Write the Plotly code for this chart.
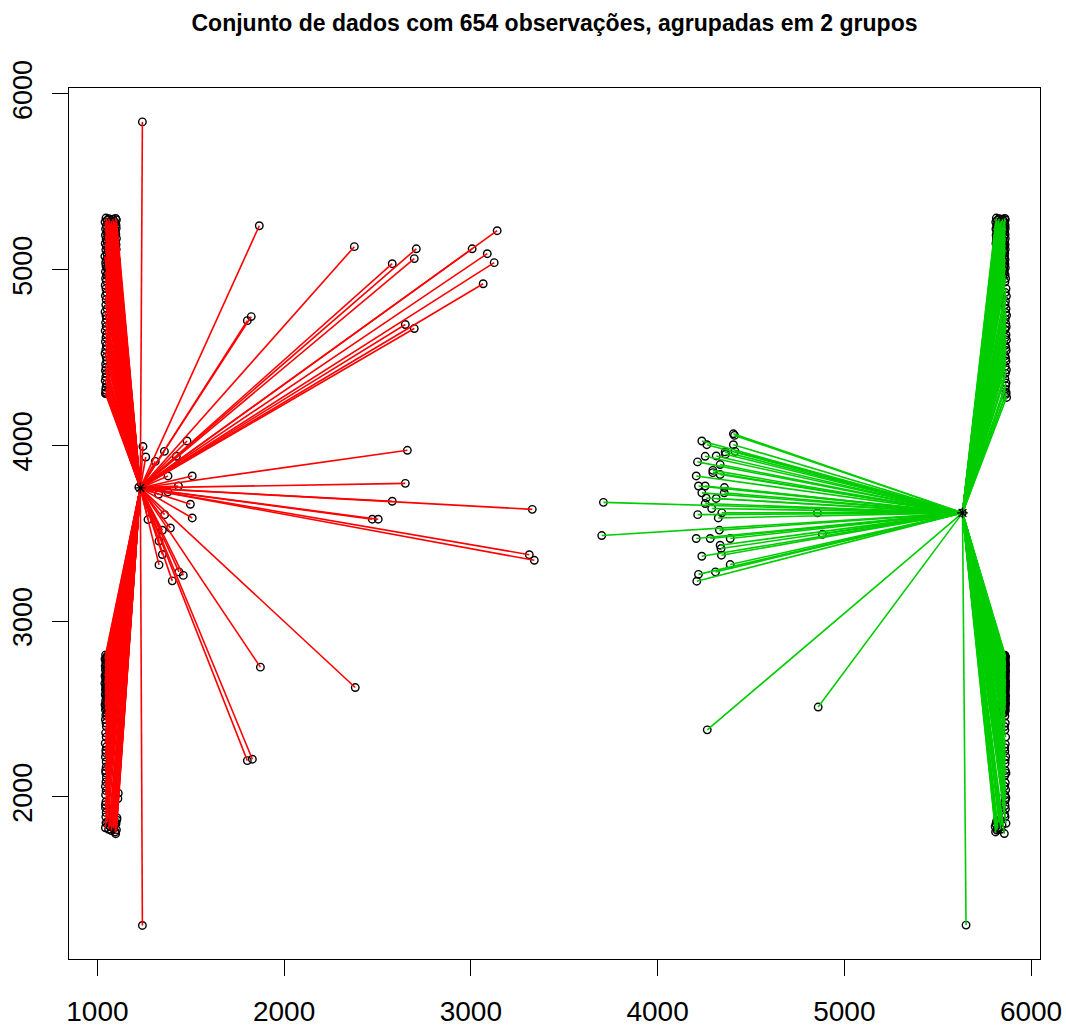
import plotly.graph_objects as go

# ---------------- data ----------------
title_text = "Conjunto de dados com 654 observações, agrupadas em 2 grupos"

red_center = (1230, 3758)
green_center = (5633, 3616)

# red cluster: dense upper column
red_top_y = [5294, 5292, 5290, 5287, 5284, 5281, 5278, 5275, 5271, 5268, 5264, 5261, 5257, 5254, 5250,
             5246, 5243, 5239, 5236, 5232, 5229, 5225, 5221, 5218, 5214, 5211, 5207, 5203, 5200, 5196,
             5192, 5189, 5185, 5182, 5178, 5174, 5171, 5167, 5163, 5160, 5156, 5153, 5149, 5145, 5142,
             5138, 5134, 5131, 5127, 5124, 5120, 5116, 5113, 5109, 5105, 5102, 5098, 5095, 5091, 5087,
             5084, 5080, 5076, 5073, 5069, 5066, 5062, 5058, 5055, 5051, 5047, 5044, 5040, 5037, 5033,
             5029, 5026, 5022, 5018, 5015, 5011, 5008, 5004, 5000, 4997, 4993, 4989, 4986, 4982, 4978,
             4975, 4971, 4968, 4964, 4960]
red_top_x = [1046, 1098, 1061, 1083, 1102, 1052, 1074, 1090, 1041, 1067, 1095, 1057, 1080, 1100, 1048,
             1071, 1088, 1063, 1101, 1044, 1078, 1093, 1055, 1069, 1097, 1050, 1085, 1060, 1099, 1043,
             1076, 1091, 1058, 1072, 1102, 1047, 1082, 1065, 1096, 1053, 1070, 1089, 1042, 1062, 1100,
             1079, 1049, 1094, 1066, 1086, 1056, 1101, 1045, 1075, 1092, 1059, 1068, 1098, 1051, 1084,
             1064, 1097, 1040, 1077, 1090, 1054, 1073, 1101, 1048, 1087, 1061, 1095, 1044, 1070, 1099,
             1057, 1081, 1046, 1093, 1066, 1102, 1052, 1078, 1088, 1060, 1096, 1043, 1074, 1091, 1055,
             1069, 1100, 1049, 1083, 1063]
# red cluster: sparse part below the upper column
red_top_sparse_y = [4950, 4935, 4912, 4892, 4870, 4852, 4830, 4800, 4778, 4760, 4739, 4720, 4699,
                    4676, 4653, 4634, 4614, 4590, 4568, 4545, 4523, 4503, 4483, 4463, 4443, 4426,
                    4409, 4390, 4369, 4350, 4330, 4315, 4301, 4295]
red_top_sparse_x = [1044, 1048, 1042, 1046, 1050, 1043, 1047, 1045, 1052, 1041, 1046, 1049, 1044,
                    1047, 1042, 1050, 1046, 1043, 1048, 1045, 1041, 1047, 1050, 1044, 1046, 1043,
                    1048, 1045, 1042, 1049, 1046, 1044, 1047, 1043]
# red cluster: dense lower column
red_bot_y = [2808, 2806, 2803, 2800, 2797, 2793, 2790, 2786, 2783, 2779, 2776, 2772, 2769, 2765, 2762,
             2758, 2755, 2751, 2748, 2744, 2741, 2737, 2734, 2730, 2727, 2723, 2720, 2716, 2713, 2709,
             2706, 2702, 2699, 2695, 2692, 2688, 2685, 2681, 2678, 2674, 2671, 2667, 2664, 2660, 2657,
             2653, 2650, 2646, 2643, 2639, 2636, 2632, 2629, 2625, 2622, 2618, 2615, 2611, 2608, 2604,
             2601, 2597, 2594, 2590, 2587, 2583, 2580, 2576, 2573, 2569, 2566, 2562, 2559, 2555, 2552,
             2548, 2545, 2541, 2538, 2534, 2531, 2527, 2524, 2520, 2517, 2513, 2510, 2506, 2503, 2499,
             2496, 2492, 2488, 2482, 2475]
red_bot_x = [1044, 1072, 1053, 1064, 1080, 1048, 1060, 1075, 1041, 1057, 1078, 1050, 1068, 1045, 1062,
             1079, 1047, 1070, 1055, 1042, 1066, 1076, 1051, 1059, 1073, 1043, 1063, 1080, 1049, 1056,
             1071, 1046, 1067, 1058, 1077, 1041, 1061, 1074, 1052, 1069, 1044, 1079, 1054, 1065, 1048,
             1072, 1057, 1040, 1076, 1062, 1050, 1068, 1045, 1078, 1059, 1053, 1070, 1043, 1064, 1075,
             1047, 1060, 1080, 1051, 1066, 1042, 1073, 1056, 1069, 1046, 1077, 1058, 1049, 1063, 1071,
             1044, 1067, 1055, 1079, 1048, 1061, 1074, 1041, 1065, 1052, 1076, 1057, 1046, 1070, 1062,
             1043, 1078, 1054, 1068, 1050]
# red cluster: sparse part below the lower column
red_bot_sparse_y = [2465, 2440, 2420, 2400, 2364, 2340, 2305, 2284, 2265, 2250, 2227, 2200, 2170,
                    2150, 2136, 2110, 2085, 2060, 2035, 2021, 2011, 1990, 1972, 1955, 1937, 1910,
                    1886, 1880, 1869, 1852, 1840, 1830, 1824, 1815, 1800, 1790,
                    1875, 1862, 1848, 1835, 1820, 1808, 1858, 1843, 1826, 1812]
red_bot_sparse_x = [1045, 1043, 1046, 1048, 1044, 1047, 1042, 1048, 1045, 1046, 1043, 1047, 1047,
                    1044, 1045, 1048, 1046, 1043, 1047, 1112, 1044, 1110, 1046, 1043, 1044, 1047,
                    1045, 1105, 1104, 1046, 1085, 1070, 1043, 1060, 1096, 1098,
                    1090, 1078, 1100, 1065, 1088, 1075, 1055, 1094, 1082, 1102]
# red cluster: points near the centre
red_near_x = [1222, 1244, 1259, 1359, 1480, 1310, 1423, 1378, 1508, 1434, 1328, 1378, 1498,
              1508, 1360, 1271, 1348, 1391, 1330, 1348, 1330, 1437, 1460, 1401]
red_near_y = [3762, 3994, 3934, 3966, 4025, 3909, 3938, 3826, 3826, 3769, 3722, 3735, 3665,
              3587, 3606, 3578, 3517, 3530, 3456, 3379, 3320, 3280, 3260, 3229]
# red cluster: far points
red_far_x = [1241, 1241, 1867, 1803, 1824, 2376, 2579, 2708, 2697, 3007, 3088, 3141, 3125,
             3066, 2649, 2697, 2660, 2649, 2579, 2472, 2504, 3329, 3313, 3340, 1873, 2381,
             1803, 1830]
red_far_y = [5841, 1268, 5250, 4710, 4733, 5131, 5034, 5119, 5063, 5119, 5091, 5222, 5040,
             4920, 4688, 4665, 3972, 3784, 3682, 3580, 3580, 3636, 3378, 3346, 2738, 2622,
             2206, 2214]

# green cluster: dense upper column
green_top_y = [5294, 5292, 5290, 5287, 5284, 5281, 5278, 5275, 5271, 5268, 5264, 5261, 5257, 5254, 5250,
               5246, 5243, 5239, 5236, 5232, 5229, 5225, 5221, 5218, 5214, 5211, 5207, 5203, 5200, 5196,
               5192, 5189, 5185, 5182, 5178, 5174, 5171, 5167, 5163, 5160, 5156, 5153, 5149, 5145, 5142,
               5138, 5134, 5131, 5127, 5124, 5120, 5116, 5113, 5109, 5105, 5102, 5098, 5095, 5091, 5087,
               5084, 5080, 5076, 5073, 5069, 5066, 5062, 5058, 5055, 5051, 5047, 5044, 5040, 5037, 5033,
               5029, 5026, 5022, 5018, 5015, 5011, 5008, 5004, 5000, 4997, 4993, 4989, 4986, 4982, 4978,
               4975, 4971, 4968, 4964, 4960]
green_top_x = [5814, 5860, 5829, 5847, 5862, 5819, 5840, 5855, 5811, 5834, 5858, 5824, 5844, 5861, 5816,
               5837, 5852, 5827, 5862, 5812, 5843, 5857, 5822, 5835, 5859, 5817, 5849, 5826, 5861, 5813,
               5841, 5854, 5825, 5838, 5862, 5815, 5846, 5831, 5858, 5820, 5836, 5851, 5812, 5828, 5861,
               5845, 5818, 5856, 5832, 5848, 5823, 5862, 5814, 5839, 5853, 5827, 5834, 5859, 5819, 5850,
               5830, 5858, 5810, 5842, 5854, 5821, 5837, 5861, 5816, 5851, 5828, 5856, 5813, 5836, 5860,
               5825, 5845, 5815, 5855, 5833, 5862, 5820, 5843, 5852, 5826, 5857, 5812, 5840, 5853, 5822,
               5835, 5861, 5817, 5848, 5830]
green_top_sparse_y = [4950, 4930, 4892, 4870, 4850, 4820, 4800, 4778, 4755, 4740, 4720, 4693, 4675,
                      4660, 4630, 4615, 4600, 4570, 4555, 4540, 4510, 4495, 4480, 4450, 4430, 4410,
                      4380, 4355, 4340, 4320, 4300, 4290, 4273]
green_top_sparse_x = [5864, 5860, 5866, 5862, 5868, 5863, 5861, 5866, 5864, 5869, 5862, 5865, 5867,
                      5861, 5866, 5863, 5868, 5862, 5865, 5867, 5861, 5864, 5866, 5862, 5868, 5863,
                      5860, 5866, 5864, 5862, 5867, 5865, 5869]
# green cluster: dense lower column
green_bot_y = [2808, 2806, 2803, 2800, 2797, 2793, 2790, 2786, 2783, 2779, 2776, 2772, 2769, 2765, 2762,
               2758, 2755, 2751, 2748, 2744, 2741, 2737, 2734, 2730, 2727, 2723, 2720, 2716, 2713, 2709,
               2706, 2702, 2699, 2695, 2692, 2688, 2685, 2681, 2678, 2674, 2671, 2667, 2664, 2660, 2657,
               2653, 2650, 2646, 2643, 2639, 2636, 2632, 2629, 2625, 2622, 2618, 2615, 2611, 2608, 2604,
               2601, 2597, 2594, 2590, 2587, 2583, 2580, 2576, 2573, 2569, 2566, 2562, 2559, 2555, 2552,
               2548, 2545, 2541, 2538, 2534, 2531, 2527, 2524, 2520, 2517, 2513, 2510, 2506, 2503, 2499,
               2496, 2492, 2488, 2482, 2475]
green_bot_x = [5848, 5860, 5852, 5857, 5864, 5850, 5855, 5862, 5846, 5854, 5861, 5851, 5858, 5863, 5849,
               5856, 5862, 5853, 5864, 5847, 5857, 5861, 5850, 5855, 5863, 5848, 5859, 5852, 5864, 5846,
               5856, 5860, 5851, 5854, 5863, 5849, 5858, 5853, 5862, 5850, 5855, 5861, 5847, 5852, 5864,
               5857, 5849, 5862, 5853, 5859, 5851, 5864, 5848, 5856, 5861, 5852, 5854, 5863, 5850, 5858,
               5853, 5862, 5846, 5857, 5860, 5851, 5855, 5864, 5849, 5859, 5852, 5862, 5847, 5855, 5863,
               5851, 5858, 5848, 5861, 5854, 5864, 5850, 5857, 5860, 5852, 5862, 5846, 5856, 5859, 5850,
               5854, 5863, 5849, 5858, 5853]
green_bot_sparse_y = [2460, 2420, 2400, 2380, 2340, 2300, 2280, 2260, 2230, 2210, 2190, 2150, 2135,
                      2120, 2080, 2060, 2040, 2010, 1995, 1980, 1950, 1930, 1900, 1886, 1860, 1849,
                      1830, 1811, 1791, 1845, 1820, 1800, 1870, 1855, 1838, 1824, 1815]
green_bot_sparse_x = [5860, 5862, 5858, 5860, 5864, 5862, 5859, 5860, 5864, 5861, 5861, 5862, 5866,
                      5859, 5862, 5858, 5864, 5860, 5865, 5862, 5861, 5863, 5858, 5861, 5815, 5866,
                      5808, 5817, 5857, 5812, 5820, 5810, 5835, 5828, 5845, 5822, 5838]
# green cluster: points of the near group
green_near_x = [5632, 3710, 3701, 4406, 4412, 4237, 4264, 4406, 4362, 4415, 4255, 4314, 4214,
                4335, 4296, 4335, 4207, 4219, 4255, 4358, 4237, 4357, 4314, 4260, 4255, 4290,
                4344, 4325, 4215, 4856, 4331, 4883, 4207, 4282, 4389, 4335, 4340, 4342, 4237,
                4389, 4310, 4219, 4210, 4296, 4364]
green_near_y = [3616, 3676, 3487, 4066, 4057, 4025, 4004, 4004, 3963, 3966, 3938, 3940, 3906,
                3891, 3858, 3834, 3826, 3769, 3769, 3760, 3730, 3730, 3698, 3701, 3669, 3641,
                3616, 3587, 3606, 3616, 3518, 3494, 3470, 3470, 3470, 3432, 3413, 3375, 3369,
                3322, 3280, 3266, 3227, 3845, 3950]
green_far_x = [4860, 4266, 5652]
green_far_y = [2511, 2381, 1270]

x_ticks = [1000, 2000, 3000, 4000, 5000, 6000]
y_ticks = [2000, 3000, 4000, 5000, 6000]

# ---------------- assemble ----------------
red_x = red_top_x + red_top_sparse_x + red_bot_x + red_bot_sparse_x + red_near_x + red_far_x
red_y = red_top_y + red_top_sparse_y + red_bot_y + red_bot_sparse_y + red_near_y + red_far_y
green_x = green_top_x + green_top_sparse_x + green_bot_x + green_bot_sparse_x + green_near_x + green_far_x
green_y = green_top_y + green_top_sparse_y + green_bot_y + green_bot_sparse_y + green_near_y + green_far_y


def segments(xs, ys, c):
    sx, sy = [], []
    for x, y in zip(xs, ys):
        sx += [c[0], x, None]
        sy += [c[1], y, None]
    return sx, sy


fig = go.Figure()

# points (drawn first, lines go over them)
fig.add_trace(go.Scatter(
    x=red_x + green_x, y=red_y + green_y, mode="markers",
    marker=dict(symbol="circle-open", size=7.5, color="black", line=dict(width=1.4, color="black")),
    hoverinfo="skip", showlegend=False))

rx, ry = segments(red_x, red_y, red_center)
fig.add_trace(go.Scatter(x=rx, y=ry, mode="lines", line=dict(color="#FF0000", width=1.6),
                         hoverinfo="skip", showlegend=False))
gx, gy = segments(green_x, green_y, green_center)
fig.add_trace(go.Scatter(x=gx, y=gy, mode="lines", line=dict(color="#00CD00", width=1.6),
                         hoverinfo="skip", showlegend=False))

# cluster centres
fig.add_trace(go.Scatter(
    x=[red_center[0], green_center[0]], y=[red_center[1], green_center[1]], mode="markers",
    marker=dict(symbol="asterisk-open", size=9, color="black", line=dict(width=1.3, color="black")),
    hoverinfo="skip", showlegend=False))

axis_common = dict(showgrid=False, zeroline=False, showline=True, linecolor="black", linewidth=1.3,
                   mirror=True, ticks="outside", ticklen=16, tickwidth=1.3, tickcolor="black",
                   automargin=False)
font_family = "Liberation Sans, Arial, sans-serif"

fig.update_layout(
    width=1066, height=1028,
    margin=dict(l=69, r=26, t=88, b=69),
    paper_bgcolor="white", plot_bgcolor="white",
    title=dict(text="<b>" + title_text + "</b>", x=(69 + 1040) / 2 / 1066, xanchor="center",
               y=1 - 23 / 1028, yanchor="middle",
               font=dict(family=font_family, size=23, color="black")),
    xaxis=dict(range=[848, 6048], tickvals=x_ticks, ticktext=[str(v) for v in x_ticks],
               ticklabelstandoff=11, tickfont=dict(family=font_family, size=28, color="black"),
               **axis_common),
    yaxis=dict(range=[1077, 6034], tickvals=y_ticks, ticktext=[str(v) for v in y_ticks],
               tickangle=-90, ticklabelstandoff=9,
               tickfont=dict(family=font_family, size=27, color="black"), **axis_common),
)

fig.write_html("out.html")
